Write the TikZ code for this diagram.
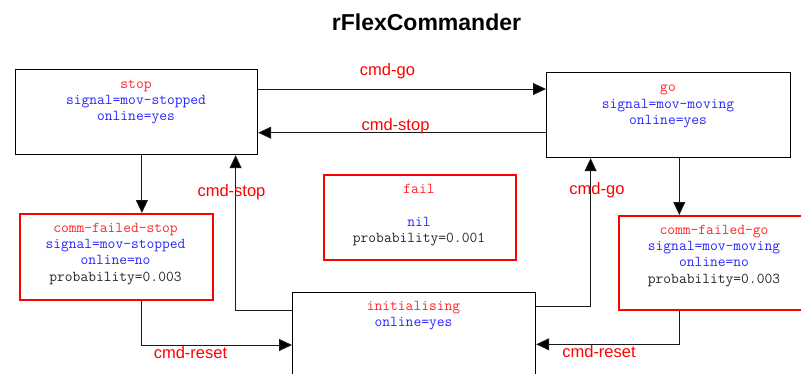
\documentclass[tikz,border=0pt]{standalone}
\usepackage{fontspec}
\setmainfont{Liberation Sans}
\usetikzlibrary{arrows.meta}

\tikzset{
  statebox/.style={draw=black, line width=1.2pt, rectangle, inner sep=0pt, anchor=north west},
  failbox/.style={draw=red, line width=2pt, rectangle, inner sep=0pt, anchor=north west},
  statetext/.style={anchor=north, inner sep=0pt, align=center,
    font=\ttfamily\fontsize{15.1}{16.3}\selectfont},
  trans/.style={draw=black!90, line width=1pt, -{Triangle[length=13pt,width=12pt,fill=black]}},
  translabel/.style={text=red, font=\fontsize{16.5}{18}\selectfont, inner sep=0pt},
}
\newcommand{\sname}[1]{\rule{0pt}{10pt}\textcolor{red!85}{#1}}
\newcommand{\sattr}[1]{\textcolor{blue!85}{#1}}
\newcommand{\sprob}[1]{\textcolor{black!85}{#1}}

\begin{document}
\begin{tikzpicture}[x=1pt,y=-1pt]
  \useasboundingbox (0,0) rectangle (801,373);

  % title
  \node[font=\bfseries\fontsize{23}{26}\selectfont, inner sep=0pt] (title) at (426.5,22) {rFlexCommander};

  % states
  \node[statebox, minimum width=242pt, minimum height=85pt] (stop) at (15,69) {};
  \node[statebox, minimum width=244pt, minimum height=85pt] (go) at (546,72) {};
  \node[failbox, minimum width=193pt, minimum height=86pt] (cfs) at (19,213) {};
  \node[failbox, minimum width=192pt, minimum height=85pt] (fail) at (323,174) {};
  \node[failbox, minimum width=192pt, minimum height=94pt] (cfg) at (618,215) {};
  \node[statebox, minimum width=243pt, minimum height=110pt] (init) at (292,292) {};

  % state contents
  \node[statetext] (stoptxt) at (136,78) {\sname{stop}\\\sattr{signal=mov-stopped}\\\sattr{online=yes}};
  \node[statetext] (gotxt) at (668,81.5) {\sname{go}\\\sattr{signal=mov-moving}\\\sattr{online=yes}};
  \node[statetext] (cfstxt) at (115.5,222) {\sname{comm-failed-stop}\\\sattr{signal=mov-stopped}\\\sattr{online=no}\\\sprob{probability=0.003}};
  \node[statetext] (failtxt) at (419,183.5) {\sname{fail}\\[16.2pt]\sattr{nil}\\\sprob{probability=0.001}};
  \node[statetext] (cfgtxt) at (714,224) {\sname{comm-failed-go}\\\sattr{signal=mov-moving}\\\sattr{online=no}\\\sprob{probability=0.003}};
  \node[statetext] (inittxt) at (413.5,300) {\sname{initialising}\\\sattr{online=yes}};

  % transitions
  \draw[trans] ([yshift=-20pt]stop.north east) -- ([yshift=-17pt]go.north west);
  \draw[trans] ([yshift=-60.7pt]go.north west) -- ([yshift=-63.7pt]stop.north east);
  \draw[trans] ([xshift=5.3pt]stop.south) -- ([xshift=5.3pt]stop.south |- cfs.north);
  \draw[trans] ([xshift=5.3pt]stop.south |- cfs.south) |- ([yshift=-53pt]init.north west);
  \draw[trans] ([yshift=-18.7pt]init.north west) -| ([xshift=99pt]stop.south);
  \draw[trans] ([yshift=-14.7pt]init.north east) -| ([xshift=-78pt]go.south);
  \draw[trans] ([xshift=10.7pt]go.south) -- ([xshift=10.7pt]go.south |- cfg.north);
  \draw[trans] ([xshift=10.7pt]go.south |- cfg.south) |- ([yshift=-52.3pt]init.north east);

  % transition labels
  \node[translabel] (lgo1) at (387.5,71) {cmd-go};
  \node[translabel] (lstop1) at (395.5,126) {cmd-stop};
  \node[translabel] (lstop2) at (231.5,192) {cmd-stop};
  \node[translabel] (lgo2) at (597,190) {cmd-go};
  \node[translabel] (lreset1) at (190.5,353) {cmd-reset};
  \node[translabel] (lreset2) at (599,351.5) {cmd-reset};
\end{tikzpicture}
\end{document}
